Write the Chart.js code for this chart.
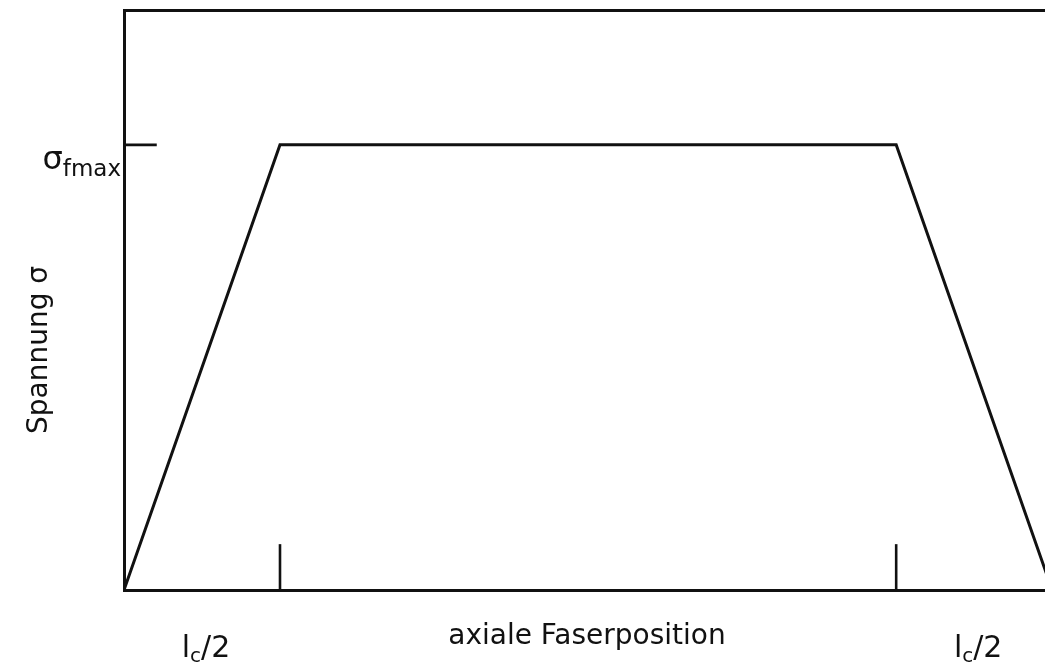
<!DOCTYPE html>
<html>
<head>
<meta charset="utf-8">
<script src="https://cdn.jsdelivr.net/npm/chart.js@4.4.1/dist/chart.umd.min.js"></script>
<style>
  html, body { margin: 0; padding: 0; background: #fff; }
  #wrap { width: 1045px; height: 666px; }
</style>
</head>
<body>
<div id="wrap"><canvas id="myChart"></canvas></div>
<script>
// fibre position in units of lc/2, stress in units of sigma_fmax
let posX = [0, 1, 4.95, 5.95]
let stress = [0, 1, 1, 0]
let xTicks = [1, 4.95]
let yTicks = [1]
let xMax = 5.904
let yMax = 1.303

let lineColor = '#111'

let datasets = [{
    data: posX.map((x, i) => ({ x: x, y: stress[i] })),
    borderColor: lineColor,
    borderWidth: 3,
    pointRadius: 0,
    tension: 0
}]

// small inside tick marks
xTicks.forEach(t => {
    datasets.push({
        data: [{ x: t, y: 0 }, { x: t, y: 0.103 }],
        borderColor: lineColor, borderWidth: 2.6, pointRadius: 0
    })
})
yTicks.forEach(t => {
    datasets.push({
        data: [{ x: 0, y: t }, { x: 0.21, y: t }],
        borderColor: lineColor, borderWidth: 2.6, pointRadius: 0
    })
})

let font = 'DejaVu Sans'

let labelsPlugin = {
    id: 'labels',
    afterDraw(chart) {
        let c = chart.ctx
        let xs = chart.scales.x
        let ys = chart.scales.y
        c.save()
        c.fillStyle = lineColor
        c.textBaseline = 'alphabetic'

        // sigma_fmax label
        let yp = ys.getPixelForValue(yTicks[0])
        c.font = '32px ' + font
        c.textAlign = 'left'
        let sw = c.measureText('σ').width
        c.font = '23px ' + font
        let fw = c.measureText('fmax').width
        let x0 = xs.left - 3 - sw - fw
        c.font = '32px ' + font
        c.fillText('σ', x0, yp + 24)
        c.font = '23px ' + font
        c.fillText('fmax', x0 + sw, yp + 31)

        // lc/2 labels
        let mids = [xTicks[0] / 2, (xTicks[1] + posX[3]) / 2]
        mids.forEach(m => {
            let px = xs.getPixelForValue(m) + 4
            c.font = '30px ' + font
            let w1 = c.measureText('l').width
            let w3 = c.measureText('/2').width
            c.font = '20px ' + font
            let w2 = c.measureText('c').width
            let start = px - (w1 + w2 + w3) / 2
            c.font = '30px ' + font
            c.fillText('l', start, 657)
            c.font = '20px ' + font
            c.fillText('c', start + w1, 662)
            c.font = '30px ' + font
            c.fillText('/2', start + w1 + w2, 657)
        })

        // x axis title
        c.font = '28px ' + font
        c.textAlign = 'center'
        c.fillText('axiale Faserposition', 587, 644)

        // y axis title
        c.translate(47, 350)
        c.rotate(-Math.PI / 2)
        c.fillText('Spannung σ', 0, 0)
        c.restore()
    }
}

let axisOpts = {
    type: 'linear',
    grid: { display: false, drawTicks: false },
    ticks: { display: false },
    border: { display: true, color: lineColor, width: 3 }
}

new Chart(document.getElementById('myChart'), {
    type: 'line',
    data: { datasets: datasets },
    options: {
        responsive: true,
        maintainAspectRatio: false,
        animation: false,
        layout: { padding: { left: 124, top: 10, right: 0, bottom: 76 } },
        plugins: { legend: { display: false }, tooltip: { enabled: false } },
        scales: {
            x: { ...axisOpts, min: 0, max: xMax },
            x2: { ...axisOpts, position: 'top', min: 0, max: xMax },
            y: { ...axisOpts, min: 0, max: yMax }
        }
    },
    plugins: [labelsPlugin]
})
</script>
</body>
</html>
